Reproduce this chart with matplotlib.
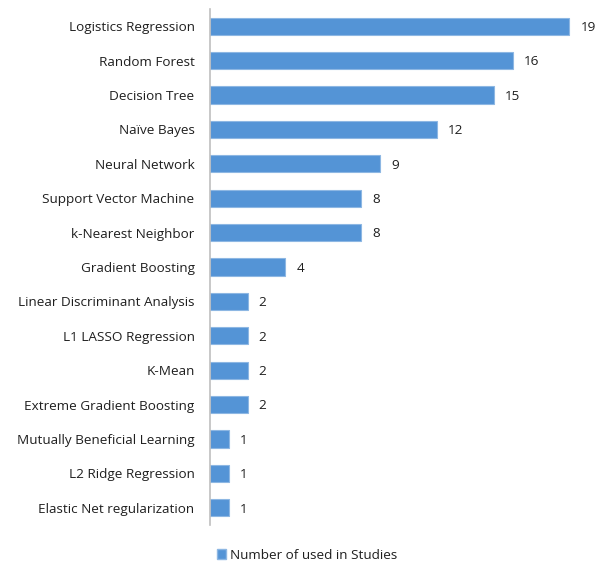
import matplotlib.pyplot as plt
from matplotlib.patches import Patch

plt.rcParams["font.family"] = ["Open Sans", "DejaVu Sans"]

methods = [
    "Logistics Regression",
    "Random Forest",
    "Decision Tree",
    "Naïve Bayes",
    "Neural Network",
    "Support Vector Machine",
    "k-Nearest Neighbor",
    "Gradient Boosting",
    "Linear Discriminant Analysis",
    "L1 LASSO Regression",
    "K-Mean",
    "Extreme Gradient Boosting",
    "Mutually Beneficial Learning",
    "L2 Ridge Regression",
    "Elastic Net regularization",
]
counts = [19, 16, 15, 12, 9, 8, 8, 4, 2, 2, 2, 2, 1, 1, 1]

bar_color = "#5494D6"
edge_color = "#8DB7E3"
text_color = "#1f1f1f"
fs = 9.7

fig = plt.figure(figsize=(5.96, 5.62), dpi=100)
ax = fig.add_axes([0.352, 0.066, 0.635, 0.918])

y = list(range(len(methods)))
ax.barh(y, counts, height=0.5, color=bar_color, edgecolor=edge_color, linewidth=0.8)

for yi, c in zip(y, counts):
    ax.annotate(str(c), (c, yi), xytext=(8, -1), textcoords="offset points",
                va="center", ha="left", fontsize=fs, color=text_color)

ax.set_yticks(y)
ax.set_yticklabels(methods, fontsize=fs, color=text_color)
ax.set_ylim(len(methods) - 0.5, -0.5)
ax.set_xlim(0, 20)
ax.set_xticks([])
ax.tick_params(axis="y", length=0, pad=11)

for side in ["top", "right", "bottom"]:
    ax.spines[side].set_visible(False)
ax.spines["left"].set_color("#BFBFBF")
ax.spines["left"].set_linewidth(1.2)

fig.legend(handles=[Patch(facecolor=bar_color, edgecolor=edge_color, label="Number of used in Studies")],
           loc="center", bbox_to_anchor=(0.515, 0.012), frameon=False, fontsize=fs,
           handlelength=0.7, handleheight=0.7, handletextpad=0.3, labelcolor=text_color)

fig.savefig("out.png", dpi=100)
